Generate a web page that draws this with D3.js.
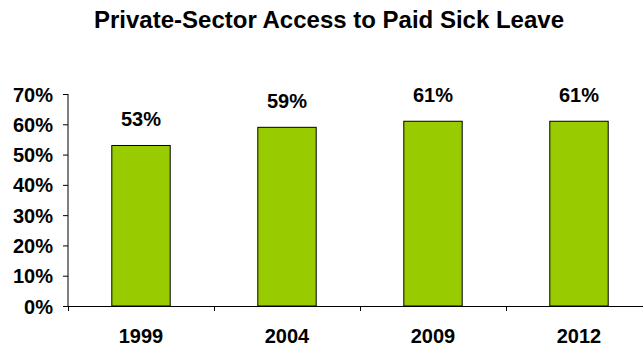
<!DOCTYPE html>
<html>
<head>
<meta charset="utf-8">
<script src="https://d3js.org/d3.v7.min.js"></script>
<style>
body{margin:0;background:#fff;}
text{font-family:"Liberation Sans",Arial,sans-serif;font-weight:bold;fill:#000;}
</style>
</head>
<body>
<script>
var years = ["1999","2004","2009","2012"];
var access = [53,59,61,61];
var yTicks = [0,10,20,30,40,50,60,70];

var width = 643, height = 346;
var left = 68, top0 = 94, bottom = 306;

var svg = d3.select("body").append("svg")
.attr("width",width).attr("height",height);

// note: the plot runs past the right edge of the picture
var x = d3.scaleBand().domain(years).range([left,left+4*146]).paddingInner(0.6).paddingOuter(0.3);
var y = d3.scaleLinear().domain([0,70]).range([bottom,top0]);

svg.append("text")
.attr("x",329).attr("y",28)
.attr("text-anchor","middle")
.style("font-size","24px")
.text("Private-Sector Access to Paid Sick Leave");

svg.selectAll("rect.bar").data(access).enter().append("rect")
.attr("class","bar")
.attr("x",function(d,i){return x(years[i]);})
.attr("y",function(d){return y(d);})
.attr("width",x.bandwidth())
.attr("height",function(d){return y(0)-y(d);})
.style("fill","#99cc00")
.style("stroke","#000")
.style("stroke-width",1);

svg.selectAll("text.val").data(access).enter().append("text")
.attr("class","val")
.attr("x",function(d,i){return x(years[i])+x.bandwidth()/2;})
.attr("y",function(d){return y(d)-19;})
.attr("text-anchor","middle")
.style("font-size","20px")
.text(function(d){return d+"%";});

var yaxis = d3.axisLeft(y).tickValues(yTicks).tickSize(5).tickPadding(10)
.tickFormat(function(d){return d+"%";});
var gy = svg.append("g").attr("transform","translate("+left+",0)").call(yaxis);
gy.select(".domain").attr("d","M0,"+top0+"V"+bottom).attr("stroke","#000");
gy.selectAll("text").style("font-size","20px").attr("dy","0.35em");

// x axis line with ticks between categories
var gx = svg.append("g");
gx.append("line").attr("x1",left).attr("x2",width).attr("y1",bottom+0.5).attr("y2",bottom+0.5).attr("stroke","#000");
gx.selectAll("line.tk").data(d3.range(years.length)).enter().append("line")
.attr("class","tk")
.attr("x1",function(i){return x(years[i])-x.step()*0.3+0.5;})
.attr("x2",function(i){return x(years[i])-x.step()*0.3+0.5;})
.attr("y1",bottom).attr("y2",bottom+5).attr("stroke","#000");
gx.selectAll("text").data(years).enter().append("text")
.attr("x",function(d){return x(d)+x.bandwidth()/2;})
.attr("y",343)
.attr("text-anchor","middle")
.style("font-size","20px")
.text(function(d){return d;});
</script>
</body>
</html>
